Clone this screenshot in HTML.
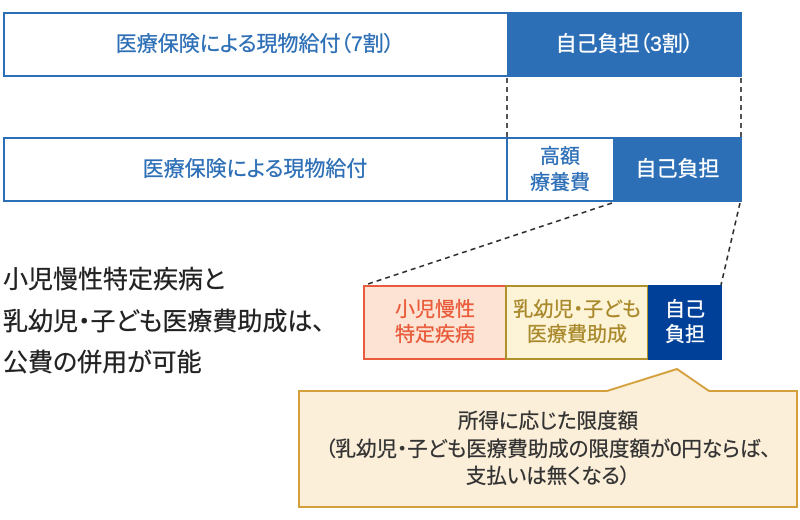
<!DOCTYPE html>
<html><head><meta charset="utf-8">
<style>
html,body{margin:0;padding:0;background:#fff;}
body{width:800px;height:520px;position:relative;overflow:hidden;font-family:"Liberation Sans","Noto Sans CJK JP",sans-serif;font-feature-settings:"palt" 1;-webkit-text-stroke:0.3px currentColor;}
.abs{position:absolute;box-sizing:border-box;}
.c{display:flex;align-items:center;justify-content:center;text-align:center;}
.blue{color:#2d6fb6;}
.fill{background:#2d6fb6;color:#fff;}
.t20{font-size:20px;line-height:26px;}
.t21{font-size:21px;line-height:26px;}
</style></head><body>

<!-- Row 1 -->
<div class="abs" style="left:3px;top:12px;width:739px;height:65px;border:2px solid #2d6fb6;"></div>
<div class="abs c blue t21" style="left:3px;top:12px;width:504px;height:65px;">医療保険による現物給付（7割）</div>
<div class="abs c fill t21" style="left:507px;top:12px;width:235px;height:65px;">自己負担（3割）</div>

<!-- Row 2 -->
<div class="abs" style="left:3px;top:137px;width:739px;height:65px;border:2px solid #2d6fb6;"></div>
<div class="abs" style="left:506px;top:137px;width:2px;height:65px;background:#2d6fb6;"></div>
<div class="abs c blue t21" style="left:3px;top:137px;width:504px;height:65px;">医療保険による現物給付</div>
<div class="abs c blue t20" style="left:507px;top:137px;width:106px;height:65px;line-height:26px;">高額<br>療養費</div>
<div class="abs c fill t21" style="left:613px;top:137px;width:129px;height:65px;">自己負担</div>

<!-- Row 3 -->
<div class="abs c t20" style="left:363px;top:285px;width:144px;height:75px;background:#fde3d3;border:2px solid #ea5a3c;color:#e85a3a;line-height:25px;">小児慢性<br>特定疾病</div>
<div class="abs c t20" style="left:505px;top:285px;width:144px;height:75px;background:#fdf3d6;border:2px solid #b0902a;color:#a8882a;line-height:25px;">乳幼児・子ども<br>医療費助成</div>
<div class="abs c t20" style="left:648px;top:285px;width:74px;height:75px;background:#004098;color:#fff;line-height:25px;">自己<br>負担</div>

<!-- SVG lines and callout -->
<svg class="abs" style="left:0;top:0;" width="800" height="520" viewBox="0 0 800 520">
  <g stroke="#2a2a2a" stroke-width="1.6" stroke-dasharray="5,4" fill="none">
    <line x1="507" y1="78" x2="507" y2="137"/>
    <line x1="741" y1="78" x2="741" y2="137"/>
    <line x1="612" y1="203" x2="365" y2="285"/>
    <line x1="740" y1="203" x2="721" y2="285"/>
  </g>
  <polygon points="299,391 607,391 677,369 709,391 797,391 797,507 299,507" fill="#fcefd9" stroke="#d4a03c" stroke-width="2"/>
</svg>

<!-- Callout text -->
<div class="abs" style="left:299px;top:408px;width:498px;text-align:center;font-size:20.5px;line-height:27.5px;color:#333;">所得に応じた限度額<br>（乳幼児・子ども医療費助成の限度額が0円ならば、<br>支払いは無くなる）</div>

<!-- Left text -->
<div class="abs" style="left:3px;top:260px;font-size:25px;line-height:41.5px;color:#222;white-space:nowrap;">小児慢性特定疾病と<br>乳幼児・子ども医療費助成は、<br>公費の併用が可能</div>

</body></html>
